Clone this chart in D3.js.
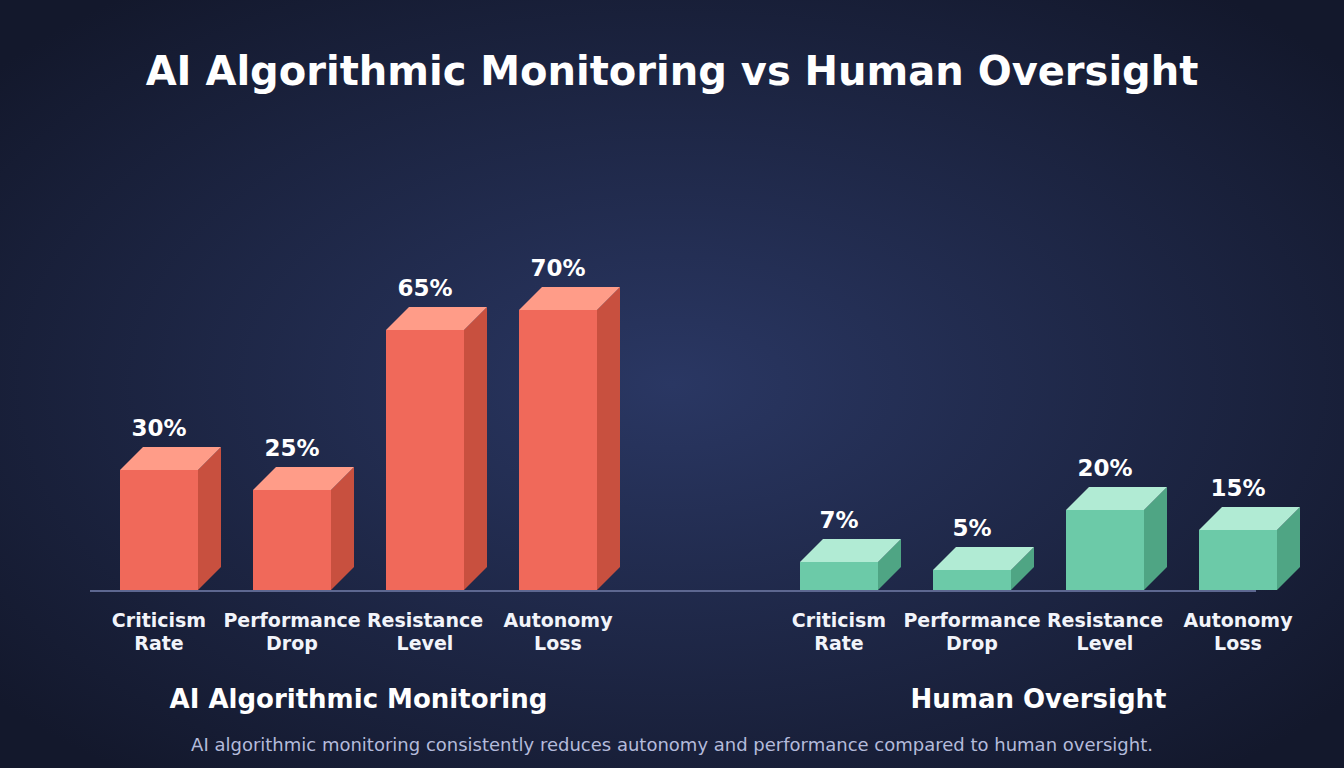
<!DOCTYPE html>
<html>
<head>
<meta charset="utf-8">
<script src="https://cdn.jsdelivr.net/npm/d3@7"></script>
<style>
  html, body { margin: 0; padding: 0; background: #151a31; }
  svg { display: block; font-family: 'DejaVu Sans', sans-serif; }
</style>
</head>
<body>
<div id="chart"></div>
<script>
const groups = ['AI Algorithmic Monitoring', 'Human Oversight'];
const categories = ['Criticism Rate', 'Performance Drop', 'Resistance Level', 'Autonomy Loss'];
const aiValues = [30, 25, 65, 70];
const humanValues = [7, 5, 20, 15];
const seriesValues = [aiValues, humanValues];

const width = 1344;
const height = 768;
const depth = 23;

const palette = [
  { front: '#f0695a', top: '#ff9c88', side: '#c8503f' },
  { front: '#6ccaa8', top: '#b1ebd4', side: '#4fa584' },
];

const svg = d3.select('#chart')
  .append('svg')
  .attr('width', width)
  .attr('height', height);

// background glow
const defs = svg.append('defs');
const grad = defs.append('radialGradient')
  .attr('id', 'bg')
  .attr('cx', '50%')
  .attr('cy', '50%')
  .attr('r', '65%');
grad.append('stop').attr('offset', '0%').attr('stop-color', '#2a3763');
grad.append('stop').attr('offset', '100%').attr('stop-color', '#13182c');

svg.append('rect')
  .attr('width', width)
  .attr('height', height)
  .attr('fill', 'url(#bg)');

const y = d3.scaleLinear().domain([0, 100]).range([590, 190]);

const groupX = d3.scaleOrdinal().domain(groups).range([120, 800]);

const x = d3.scaleBand()
  .domain(categories)
  .range([0, 477])
  .paddingInner(55 / 133)
  .paddingOuter(0);

svg.append('text')
  .attr('x', width / 2)
  .attr('y', 85)
  .attr('text-anchor', 'middle')
  .attr('fill', '#ffffff')
  .style('font-size', '40px')
  .style('font-weight', 'bold')
  .text('AI Algorithmic Monitoring vs Human Oversight');

// baseline
svg.append('line')
  .attr('x1', 90)
  .attr('x2', 1256)
  .attr('y1', y(0) + 1)
  .attr('y2', y(0) + 1)
  .attr('stroke', '#5d6790')
  .attr('stroke-width', 2);

groups.forEach((grp, gi) => {
  const g = svg.append('g')
    .attr('transform', `translate(${groupX(grp)},0)`);
  const col = palette[gi];
  const data = categories.map((c, i) => ({ cat: c, value: seriesValues[gi][i] }));

  const bar = g.selectAll('.bar')
    .data(data)
    .enter().append('g')
    .attr('class', 'bar');

  const bw = x.bandwidth();

  // side face
  bar.append('path')
    .attr('fill', col.side)
    .attr('d', (d) => {
      const x0 = x(d.cat) + bw;
      const yt = y(d.value);
      const yb = y(0);
      return `M${x0},${yt}L${x0 + depth},${yt - depth}L${x0 + depth},${yb - depth}L${x0},${yb}Z`;
    });

  // top face
  bar.append('path')
    .attr('fill', col.top)
    .attr('d', (d) => {
      const x0 = x(d.cat);
      const yt = y(d.value);
      return `M${x0},${yt}L${x0 + depth},${yt - depth}L${x0 + bw + depth},${yt - depth}L${x0 + bw},${yt}Z`;
    });

  // front face
  bar.append('rect')
    .attr('fill', col.front)
    .attr('x', (d) => x(d.cat))
    .attr('y', (d) => y(d.value))
    .attr('width', bw)
    .attr('height', (d) => y(0) - y(d.value));

  bar.append('text')
    .attr('x', (d) => x(d.cat) + bw / 2)
    .attr('y', (d) => y(d.value) - depth - 11)
    .attr('text-anchor', 'middle')
    .attr('fill', '#ffffff')
    .style('font-size', '23px')
    .style('font-weight', 'bold')
    .text((d) => `${d.value}%`);

  // category labels, two lines
  const lbl = g.selectAll('.cat')
    .data(categories)
    .enter().append('text')
    .attr('class', 'cat')
    .attr('text-anchor', 'middle')
    .attr('fill', '#f2f4fa')
    .style('font-size', '19px')
    .style('font-weight', 'bold');

  lbl.each(function (c) {
    const words = c.split(' ');
    const t = d3.select(this);
    words.forEach((w, wi) => {
      t.append('tspan')
        .attr('x', x(c) + bw / 2)
        .attr('y', 627 + wi * 23)
        .text(w);
    });
  });

  g.append('text')
    .attr('x', x.range()[1] / 2)
    .attr('y', 708)
    .attr('text-anchor', 'middle')
    .attr('fill', '#ffffff')
    .style('font-size', '26px')
    .style('font-weight', 'bold')
    .text(grp);
});

svg.append('text')
  .attr('x', width / 2)
  .attr('y', 751)
  .attr('text-anchor', 'middle')
  .attr('fill', '#b4bbdb')
  .style('font-size', '18px')
  .text('AI algorithmic monitoring consistently reduces autonomy and performance compared to human oversight.');
</script>
</body>
</html>
